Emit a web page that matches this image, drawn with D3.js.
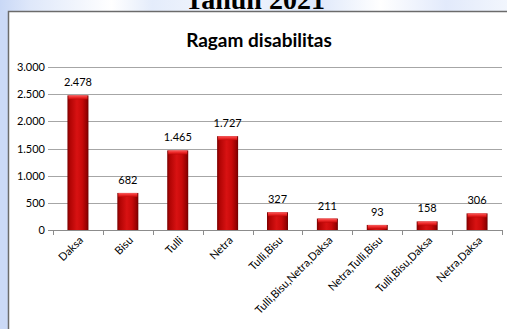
<!DOCTYPE html>
<html>
<head>
<meta charset="utf-8">
<script src="https://cdn.jsdelivr.net/npm/d3@7"></script>
<style>
  body { margin: 0; padding: 0; overflow: hidden; }
  svg { display: block; font-family: Lato, "Open Sans", sans-serif; }
</style>
</head>
<body>
<div id="container"></div>
<script>
const width = 507;
const height = 329;

// data
const categories = ["Daksa", "Bisu", "Tulli", "Netra", "Tulli,Bisu", "Tulli,Bisu,Netra,Daksa", "Netra,Tulli,Bisu", "Tulli,Bisu,Daksa", "Netra,Daksa"];
const values = [2478, 682, 1465, 1727, 327, 211, 93, 158, 306];
const yTicks = [0, 500, 1000, 1500, 2000, 2500, 3000];

const fmt = d3.formatLocale({ decimal: ",", thousands: ".", grouping: [3], currency: ["", ""] }).format(",");

const svg = d3.select("#container").append("svg")
  .attr("width", width)
  .attr("height", height);

const defs = svg.append("defs");

// page background, light blue
const bg = defs.append("linearGradient").attr("id", "bgTop").attr("x1", 0).attr("x2", 1).attr("y1", 0).attr("y2", 0);
[[0, "#c9d8f6"], [0.06, "#dfe8fa"], [0.22, "#ffffff"], [0.3, "#e4ecfb"], [0.45, "#f4f7fd"], [0.62, "#dde7fa"], [0.75, "#ffffff"], [0.88, "#e2eafb"], [1, "#f2f6fd"]]
  .forEach(s => bg.append("stop").attr("offset", s[0]).attr("stop-color", s[1]));

svg.append("rect").attr("width", width).attr("height", height).attr("fill", "#cbd9f6");
svg.append("rect").attr("width", width).attr("height", 12).attr("fill", "url(#bgTop)");

// cut off heading above the chart box
svg.append("text")
  .attr("x", 255).attr("y", 9)
  .attr("text-anchor", "middle")
  .style("font-family", "'Liberation Serif', 'DejaVu Serif', serif")
  .style("font-weight", "bold")
  .style("font-size", "28px")
  .attr("fill", "#000")
  .text("Tahun 2021");

// chart box
svg.append("rect")
  .attr("x", 8.5).attr("y", 11.5)
  .attr("width", 520).attr("height", 340)
  .attr("fill", "#fff")
  .attr("stroke", "#6b6b6b")
  .attr("stroke-width", 1.5);

svg.append("text")
  .attr("x", 259).attr("y", 47)
  .attr("text-anchor", "middle")
  .style("font-weight", "bold")
  .style("font-size", "19px")
  .attr("fill", "#000")
  .text("Ragam disabilitas");

const x = d3.scaleBand().domain(categories).range([53, 502]).padding(0);
const y = d3.scaleLinear().domain([0, 3000]).range([230, 67]);
const barW = 21;

// gridlines + y labels
svg.append("g").selectAll("line")
  .data(yTicks.filter(d => d > 0))
  .join("line")
  .attr("x1", 48).attr("x2", 502)
  .attr("y1", d => Math.round(y(d)) + 0.5)
  .attr("y2", d => Math.round(y(d)) + 0.5)
  .attr("stroke", "#a6a6a6")
  .attr("stroke-width", 1);

svg.append("g").selectAll("text")
  .data(yTicks)
  .join("text")
  .attr("x", 45)
  .attr("y", d => y(d) + 4)
  .attr("text-anchor", "end")
  .style("font-size", "11px")
  .attr("fill", "#000")
  .text(d => fmt(d));

// bar gradients
const side = defs.append("linearGradient").attr("id", "barSide").attr("x1", 0).attr("x2", 1).attr("y1", 0).attr("y2", 0);
[[0, "#7a0000"], [0.12, "#b00404"], [0.45, "#d81212"], [0.7, "#c80a0a"], [0.9, "#9a0202"], [1, "#6e0000"]]
  .forEach(s => side.append("stop").attr("offset", s[0]).attr("stop-color", s[1]));
const cap = defs.append("linearGradient").attr("id", "barCap").attr("x1", 0).attr("x2", 0).attr("y1", 0).attr("y2", 1);
[[0, "#f46060"], [0.5, "#ee2a2a"], [1, "#c20808"]]
  .forEach(s => cap.append("stop").attr("offset", s[0]).attr("stop-color", s[1]));

const bars = svg.append("g").selectAll("g")
  .data(categories.map((c, i) => ({ c, v: values[i] })))
  .join("g");

bars.append("rect")
  .attr("x", d => x(d.c) + x.bandwidth() / 2 - barW / 2)
  .attr("y", d => y(d.v))
  .attr("width", barW)
  .attr("height", d => y(0) - y(d.v))
  .attr("fill", "url(#barSide)");

bars.append("rect")
  .attr("x", d => x(d.c) + x.bandwidth() / 2 - barW / 2 + 1)
  .attr("y", d => y(d.v))
  .attr("width", barW - 2)
  .attr("height", 4)
  .attr("fill", "url(#barCap)");

bars.append("text")
  .attr("x", d => x(d.c) + x.bandwidth() / 2)
  .attr("y", d => y(d.v) - 9)
  .attr("text-anchor", "middle")
  .style("font-size", "11px")
  .attr("fill", "#000")
  .text(d => fmt(d.v));

// x axis line and ticks
svg.append("line")
  .attr("x1", 48).attr("x2", 502)
  .attr("y1", 230.5).attr("y2", 230.5)
  .attr("stroke", "#8c8c8c");

svg.append("g").selectAll("line")
  .data(categories.concat(["end"]))
  .join("line")
  .attr("x1", (d, i) => Math.round(53 + i * x.step()) + 0.5)
  .attr("x2", (d, i) => Math.round(53 + i * x.step()) + 0.5)
  .attr("y1", 230).attr("y2", 235)
  .attr("stroke", "#8c8c8c");

svg.append("g").selectAll("text")
  .data(categories)
  .join("text")
  .attr("transform", d => `translate(${x(d) + x.bandwidth() / 2 + 6},${241}) rotate(-45)`)
  .attr("text-anchor", "end")
  .style("font-size", "11px")
  .attr("fill", "#000")
  .text(d => d);
</script>
</body>
</html>
